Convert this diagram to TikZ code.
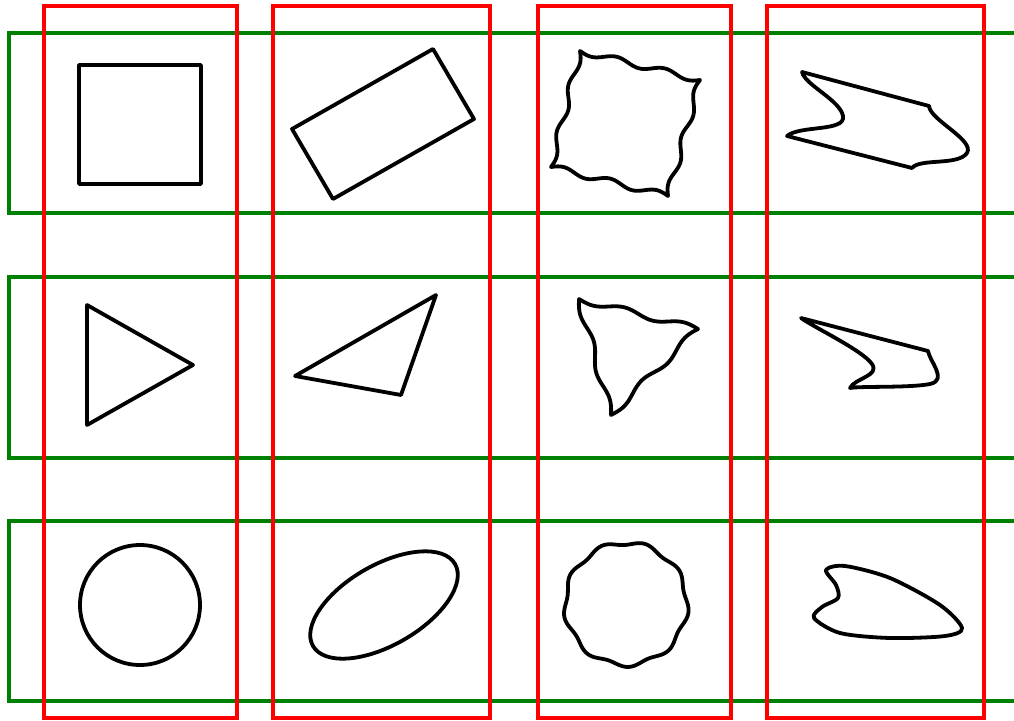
\documentclass[tikz,border=0pt]{standalone}
\definecolor{gr}{RGB}{0,128,0}
\definecolor{rd}{RGB}{255,0,0}
% wavy edge from (#1,#2) to (#3,#4), #5 periods, amplitude #6
\newcommand\wavyseg[6]{-- plot[domain=0:1,samples=90,smooth,variable=\t]
  ({#1+(#3-#1)*\t - #6*sin(360*#5*\t)*(#4-#2)/veclen(#3-#1,#4-#2)},
   {#2+(#4-#2)*\t + #6*sin(360*#5*\t)*(#3-#1)/veclen(#3-#1,#4-#2)})}
\begin{document}
\begin{tikzpicture}[x=1pt,y=-1pt,
  outl/.style={draw=black,line width=3.8pt,line join=round},
  rowbox/.style={draw=gr,line width=3.5pt},
  colbox/.style={draw=rd,line width=3.5pt}]
\useasboundingbox (0,0) rectangle (1014,720);
\clip (0,0) rectangle (1014,720);
% green row boxes
\draw[rowbox] (9,33) rectangle (1040,213);
\draw[rowbox] (9,277) rectangle (1040,458);
\draw[rowbox] (9,521) rectangle (1040,701);
% red column boxes
\draw[colbox] (44,6) rectangle (237,718);
\draw[colbox] (273,6) rectangle (490,718);
\draw[colbox] (538,6) rectangle (731,718);
\draw[colbox] (767,6) rectangle (984,718);
% row 1
\draw[outl] (79,65) rectangle (201,184);
\draw[outl] (292,129) -- (433,49) -- (474,119) -- (333,199) -- cycle;
\draw[outl] (580,51) \wavyseg{580}{51}{700}{80}{2.5}{3} \wavyseg{700}{80}{668}{196}{2.5}{3}
  \wavyseg{668}{196}{551}{167}{2.5}{3} \wavyseg{551}{167}{580}{51}{2.5}{3} -- cycle;
\draw[outl] (802,72) -- (929,106) .. controls (930,120) and (975,140) .. (967,153)
  .. controls (958,166) and (920,158) .. (912,168) -- (787,136)
  .. controls (800,125) and (846,132) .. (843,116)
  .. controls (840,100) and (805,85) .. (802,72) -- cycle;
% row 2
\draw[outl] (87,305) -- (193,365) -- (87,425) -- cycle;
\draw[outl] (295,376) -- (436,295) -- (401,395) -- cycle;
\draw[outl] (579,299) \wavyseg{579}{299}{698}{329}{2}{3} \wavyseg{698}{329}{611}{415}{2}{3}
  \wavyseg{611}{415}{579}{299}{2}{3} -- cycle;
\draw[outl] (801,318) -- (928,351) .. controls (930,362) and (948,380) .. (930,384)
  .. controls (910,388) and (860,386) .. (850,388)
  .. controls (855,378) and (880,376) .. (872,364)
  .. controls (862,350) and (815,328) .. (801,318) -- cycle;
% row 3
\draw[outl] (140,605) circle [radius=60pt];
\draw[outl,rotate around={30:(384,605)}] (384,605) ellipse [x radius=82pt, y radius=40pt];
\draw[outl] plot[domain=0:360,samples=240,smooth cycle,variable=\a]
  ({626+(61+2*sin(9*\a+20))*cos(\a)}, {604+(61+2*sin(9*\a+20))*sin(\a)});
\draw[outl] plot[smooth cycle] coordinates {(826,570) (845,566) (890,578) (940,605) (962,628) (945,636) (890,638) (840,633) (814,618) (822,607) (838,598) (836,585)};
\end{tikzpicture}
\end{document}
